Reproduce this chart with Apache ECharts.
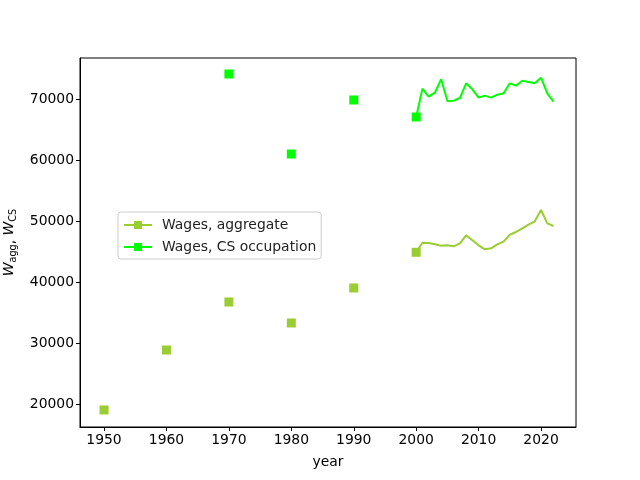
<!DOCTYPE html>
<html><head><meta charset="utf-8">
<script src="https://cdn.jsdelivr.net/npm/echarts@6/dist/echarts.min.js"></script>
<style>html,body{margin:0;padding:0;background:#fff}#c{width:640px;height:480px}</style>
</head><body><div id="c"></div>
<script>
const decadeYears = [1950, 1960, 1970, 1980, 1990, 2000];
const aggDecade = [19020, 28850, 36720, 33280, 39020, 44870];
const csDecade = [null, null, 74100, 60980, 69840, 67050];
const annualYears = [2000,2001,2002,2003,2004,2005,2006,2007,2008,2009,2010,2011,2012,2013,2014,2015,2016,2017,2018,2019,2020,2021,2022];
const aggAnnual = [44870,46440,46390,46180,45950,46010,45850,46340,47650,46830,46010,45360,45520,46180,46610,47750,48200,48800,49400,49950,51800,49620,49180];
const csAnnual = [67050,71690,70380,71030,73230,69670,69730,70160,72570,71590,70220,70550,70220,70710,70930,72570,72190,73000,72790,72570,73490,70930,69560];
const xTicks = [1950,1960,1970,1980,1990,2000,2010,2020];
const yTicks = [20000,30000,40000,50000,60000,70000];

function build(decVals, annVals) {
  const d = [];
  decadeYears.forEach((y, i) => {
    if (y === 2000) return;
    if (decVals[i] != null) {
      d.push({value: [y, decVals[i]]});
      d.push({value: [y + 5, null], symbol: 'none'});
    }
  });
  annualYears.forEach((y, i) => {
    d.push(i === 0 ? {value: [y, annVals[i]]} : {value: [y, annVals[i]], symbol: 'none'});
  });
  return d;
}
const FONT = 'DejaVu Sans';
const chart = echarts.init(document.getElementById('c'));
chart.setOption({
  animation: false,
  textStyle: {fontFamily: FONT},
  grid: {left: 80, right: 64, top: 58, bottom: 53, show: true, borderColor: '#000', borderWidth: 1,
         containLabel: false, outerBoundsMode: 'none'},
  legend: {
    left: 118, top: 212, orient: 'vertical', itemWidth: 28, itemHeight: 10, itemGap: 8,
    padding: [6, 5, 5, 5], borderColor: '#ccc', borderWidth: 1, borderRadius: 3,
    textStyle: {fontFamily: FONT, fontSize: 13.9, color: '#222', padding: [0, 0, 0, 5]},
    data: ['Wages, aggregate', 'Wages, CS occupation']
  },
  xAxis: {
    type: 'value', min: 1946.15, max: 2025.6,
    name: 'year', nameLocation: 'middle', nameGap: 28,
    nameTextStyle: {fontFamily: FONT, fontSize: 13.9, color: '#000'},
    axisLine: {show: true, lineStyle: {color: '#000'}},
    axisTick: {show: true, length: 4, customValues: xTicks, lineStyle: {color: '#000'}},
    axisLabel: {customValues: xTicks, fontFamily: FONT, fontSize: 13.9, color: '#000', margin: 6,
                formatter: v => String(v)},
    splitLine: {show: false}
  },
  yAxis: {
    type: 'value', min: 16230, max: 76720,
    name: '{w|W}{s|agg}{c|, }{w|W}{s|CS}', nameLocation: 'middle', nameGap: 62, nameRotate: 90,
    nameTextStyle: {
      color: '#000', fontFamily: FONT, fontSize: 13.9,
      rich: {
        w: {fontStyle: 'italic', fontSize: 13.9, fontFamily: FONT, color: '#000', verticalAlign: 'top'},
        s: {fontSize: 9.7, fontFamily: FONT, color: '#000', verticalAlign: 'bottom', padding: [6, 0, 0, 0]},
        c: {fontSize: 13.9, fontFamily: FONT, color: '#000'}
      }
    },
    axisLine: {show: true, lineStyle: {color: '#000'}},
    axisTick: {show: true, length: 4, customValues: yTicks, lineStyle: {color: '#000'}},
    axisLabel: {customValues: yTicks, fontFamily: FONT, fontSize: 13.9, color: '#000', margin: 6,
                formatter: v => String(v)},
    splitLine: {show: false}
  },
  series: [
    {name: 'Wages, aggregate', type: 'line', data: build(aggDecade, aggAnnual), connectNulls: false,
     symbol: 'rect', symbolSize: 9, showAllSymbol: true, color: '#9ACD32',
     lineStyle: {width: 2, color: '#9ACD32'}, itemStyle: {color: '#9ACD32'}},
    {name: 'Wages, CS occupation', type: 'line', data: build(csDecade, csAnnual), connectNulls: false,
     symbol: 'rect', symbolSize: 9, showAllSymbol: true, color: '#00FF00',
     lineStyle: {width: 2, color: '#00FF00'}, itemStyle: {color: '#00FF00'}}
  ]
});
</script></body></html>
